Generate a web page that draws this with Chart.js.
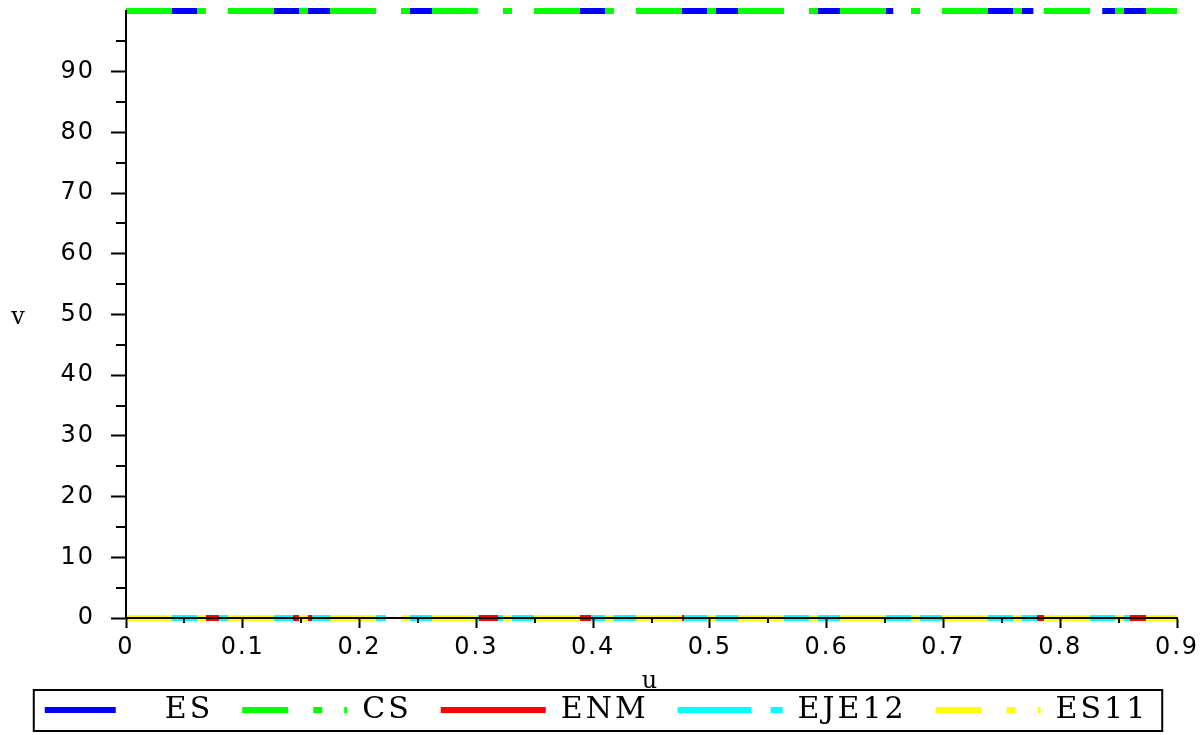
<!DOCTYPE html>
<html>
<head>
<meta charset="utf-8">
<script src="https://cdn.jsdelivr.net/npm/chart.js@4.4.1/dist/chart.umd.min.js"></script>
<style>
  html, body { margin: 0; padding: 0; background: #fff; }
  #wrap { width: 1203px; height: 735px; position: relative; }
</style>
</head>
<body>
<div id="wrap"><canvas id="chart"></canvas></div>
<script>
// u extent of the plot and the level (v) of each curve
const uSpan = [0, 0.9];
const esLevel = 100;
const csLevel = 100;
const enmLevel = 0;
const eje12Level = 0;
const es11Level = 0;

// u intervals where ES and ENM are visible
const esSegments = [[0.035, 0.063], [0.12, 0.178], [0.239, 0.265], [0.385, 0.413], [0.473, 0.527],
                    [0.59, 0.614], [0.647, 0.657], [0.736, 0.777], [0.836, 0.877]];
const enmSegments = [[0, 0.22], [0.236, 0.9]];

const seriesNames = ["ES", "CS", "ENM", "EJE12", "ES11"];

// ticks
const xMajor = [0, 0.1, 0.2, 0.3, 0.4, 0.5, 0.6, 0.7, 0.8, 0.9];
const xMinor = [0.05, 0.15, 0.25, 0.35, 0.45, 0.55, 0.65, 0.75, 0.85];
const yMajor = [0, 10, 20, 30, 40, 50, 60, 70, 80, 90];
const yMinor = [5, 15, 25, 35, 45, 55, 65, 75, 85, 95];

const fullLine = (level) => uSpan.map(u => ({ x: u, y: level }));
const segLine = (segs, level) => {
  const pts = [];
  segs.forEach(([a, b]) => { pts.push({ x: a, y: level }, { x: b, y: level }, { x: b, y: null }); });
  return pts;
};

const dashDot = [46, 25, 9, 22];

const datasets = [
  { label: seriesNames[0], data: segLine(esSegments, esLevel), borderColor: "#0000ff", borderDash: [71, 34], order: 5 },
  { label: seriesNames[1], data: fullLine(csLevel), borderColor: "#00ff00", borderDash: dashDot, order: 4 },
  { label: seriesNames[2], data: segLine(enmSegments, enmLevel), borderColor: "#ff0000", borderDash: [], order: 3 },
  { label: seriesNames[3], data: fullLine(eje12Level), borderColor: "#00ffff", borderDash: [74, 19], order: 2 },
  { label: seriesNames[4], data: fullLine(es11Level), borderColor: "#ffff00", borderDash: dashDot, order: 1 }
].map(d => Object.assign({
  borderWidth: 6, pointRadius: 0, tension: 0, spanGaps: false,
  borderCapStyle: "butt", backgroundColor: d.borderColor, clip: 6
}, d));

// wide lettering like the original: legend first, tick labels after the datasets
const spacing = {
  id: "spacing",
  beforeUpdate(chart) { chart.ctx.letterSpacing = "3px"; },
  beforeDraw(chart) { chart.ctx.letterSpacing = "3px"; },
  afterDatasetsDraw(chart) { chart.ctx.letterSpacing = "2px"; }
};

// minor ticks, the upright axis names and the legend frame
const extras = {
  id: "extras",
  afterDraw(chart) {
    const { ctx, chartArea, scales } = chart;
    ctx.save();
    ctx.strokeStyle = "#000";
    ctx.lineWidth = 2;
    ctx.beginPath();
    xMinor.forEach(v => {
      const px = Math.round(scales.x.getPixelForValue(v));
      ctx.moveTo(px, chartArea.bottom);
      ctx.lineTo(px, chartArea.bottom + 5);
    });
    yMinor.forEach(v => {
      const py = Math.round(scales.y.getPixelForValue(v));
      ctx.moveTo(chartArea.left, py);
      ctx.lineTo(chartArea.left - 10, py);
    });
    ctx.stroke();

    ctx.letterSpacing = "0px";
    ctx.fillStyle = "#000";
    ctx.font = "24px 'DejaVu Serif'";
    ctx.textAlign = "center";
    ctx.textBaseline = "alphabetic";
    ctx.fillText("v", 18, 324);
    ctx.fillText("u", (chartArea.left + chartArea.right) / 2 - 2, 688);

    const boxes = chart.legend.legendHitBoxes;
    if (boxes && boxes.length) {
      const first = boxes[0], last = boxes[boxes.length - 1];
      const x0 = first.left - 11;
      const x1 = last.left + last.width + 14;
      const cy = first.top + first.height / 2;
      ctx.lineWidth = 2;
      ctx.strokeRect(x0, cy - 20, x1 - x0, 41);
    }
    ctx.restore();
  }
};

new Chart(document.getElementById("chart"), {
  type: "line",
  data: { datasets },
  plugins: [spacing, extras],
  options: {
    responsive: true,
    maintainAspectRatio: false,
    animation: false,
    layout: { padding: { left: 8, right: 18, top: 11, bottom: 0 } },
    scales: {
      x: {
        type: "linear",
        min: 0, max: 0.9,
        afterBuildTicks: (s) => { s.ticks = xMajor.map(v => ({ value: v })); },
        afterFit: (s) => { s.height = 48; s.paddingLeft = 0; s.paddingRight = 26; },
        grid: { drawOnChartArea: false, tickLength: 10, tickWidth: 2, tickColor: "#000", z: 1 },
        border: { display: true, color: "#000", width: 2, z: 1 },
        ticks: { color: "#000", padding: 5, maxRotation: 0, autoSkip: false, z: 1,
                 font: { family: "'DejaVu Sans'", size: 24 }, callback: (v) => String(v) }
      },
      y: {
        type: "linear",
        min: 0, max: 100,
        afterBuildTicks: (s) => { s.ticks = yMajor.map(v => ({ value: v })); },
        afterFit: (s) => { s.width = 118; s.paddingTop = 0; s.paddingBottom = 0; },
        grid: { drawOnChartArea: false, tickLength: 15, tickWidth: 2, tickColor: "#000", z: 1 },
        border: { display: true, color: "#000", width: 2, z: 1 },
        ticks: { color: "#000", padding: 16, autoSkip: false, z: 1,
                 font: { family: "'DejaVu Sans'", size: 24 }, callback: (v) => String(v) }
      }
    },
    plugins: {
      tooltip: { enabled: false },
      legend: {
        position: "bottom",
        labels: {
          usePointStyle: true,
          pointStyle: "line",
          pointStyleWidth: 105,
          padding: 29,
          color: "#000",
          font: { family: "'DejaVu Serif'", size: 30 },
          generateLabels: (chart) => chart.data.datasets.map((d, i) => ({
            text: d.label,
            datasetIndex: i,
            strokeStyle: d.borderColor,
            fillStyle: d.borderColor,
            lineWidth: d.borderWidth,
            lineDash: d.borderDash,
            lineCap: "butt",
            pointStyle: "line",
            fontColor: "#000",
            hidden: false
          }))
        }
      }
    }
  }
});
</script>
</body>
</html>
